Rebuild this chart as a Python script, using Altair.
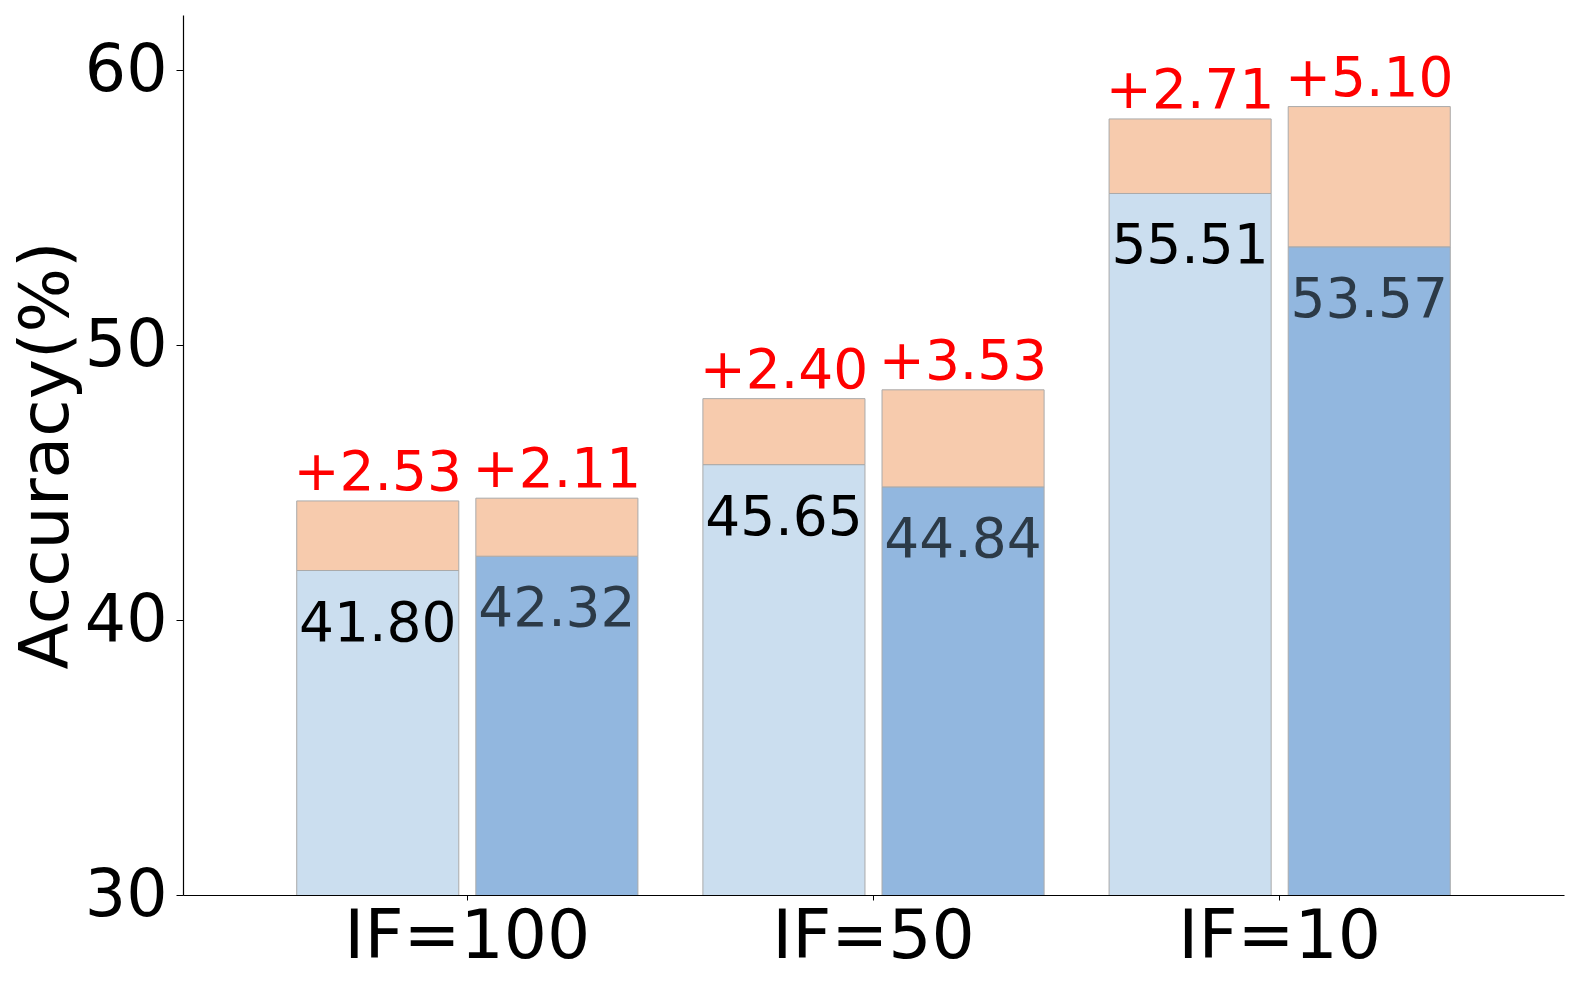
import altair as alt
import pandas as pd

groups = ["IF=100", "IF=50", "IF=10"]
variants = ["base", "ours"]
light_base = [41.80, 45.65, 55.51]
light_gain = [2.53, 2.40, 2.71]
dark_base = [42.32, 44.84, 53.57]
dark_gain = [2.11, 3.53, 5.10]
y_ticks = [30, 40, 50, 60]

rows = []
for i, g in enumerate(groups):
    for v, b, d in ((variants[0], light_base[i], light_gain[i]), (variants[1], dark_base[i], dark_gain[i])):
        rows.append({"group": g, "variant": v, "base": b, "gain": d, "top": round(b + d, 2),
                     "base_label": f"{b:.2f}", "gain_label": f"+{d:.2f}", "zero": 0})
df = pd.DataFrame(rows)

FONT = "DejaVu Sans"
LIGHT = "#cbdeef"
DARK = "#92b7df"
ORANGE = "#f7cbad"
EDGE = "#aaaaaa"

x_enc = alt.X("group:N", sort=groups,
              scale=alt.Scale(paddingInner=0.16, paddingOuter=0.28),
              axis=alt.Axis(title=None, labelFontSize=68, labelFont=FONT, labelColor="black",
                            labelAngle=0, tickSize=5, tickColor="black", labelPadding=3,
                            labelLimit=0, domainColor="black", domainWidth=1.2))
xoff = alt.XOffset("variant:N", sort=variants,
                   scale=alt.Scale(paddingInner=0.0952, paddingOuter=0))
y_scale = alt.Scale(domain=[30, 62], nice=False, zero=False)

base = alt.Chart(df)

bars = base.mark_bar(stroke=EDGE, strokeWidth=1, clip=True).encode(
    x=x_enc, xOffset=xoff,
    y=alt.Y("zero:Q", scale=y_scale,
            axis=alt.Axis(values=y_ticks, title="Accuracy(%)", titleFontSize=68, titleFont=FONT,
                          titleFontWeight="normal", titleColor="black",
                          titleX=-136, titleY=440, titleAngle=-90, titleAlign="center",
                          titleBaseline="middle",
                          labelFontSize=65, labelFont=FONT, labelColor="black",
                          tickSize=7, tickColor="black", labelPadding=9, grid=False,
                          domainColor="black", domainWidth=1.2)),
    y2="base:Q",
    fill=alt.Fill("variant:N", sort=variants, scale=alt.Scale(domain=variants, range=[LIGHT, DARK]), legend=None),
)

gain_bars = base.mark_bar(stroke=EDGE, strokeWidth=1, fill=ORANGE, clip=True).encode(
    x=x_enc, xOffset=xoff,
    y=alt.Y("base:Q", scale=y_scale),
    y2="top:Q",
)

base_text = base.mark_text(font=FONT, fontSize=55, baseline="alphabetic", dy=70).encode(
    x=x_enc, xOffset=xoff,
    y=alt.Y("base:Q", scale=y_scale),
    text="base_label:N",
    color=alt.Color("variant:N", sort=variants, scale=alt.Scale(domain=variants, range=["#000000", "#2c3a47"]), legend=None),
)

gain_text = base.mark_text(font=FONT, fontSize=55, baseline="alphabetic", dy=-11, color="#ff0000").encode(
    x=x_enc, xOffset=xoff,
    y=alt.Y("top:Q", scale=y_scale),
    text="gain_label:N",
)

chart = alt.layer(bars, gain_bars, base_text, gain_text).properties(
    width=1381, height=880,
    autosize=alt.AutoSizeParams(type="none"),
    padding={"left": 175, "top": 7, "right": 4, "bottom": 80},
).configure(background="white", view=alt.ViewConfig(stroke=None))

chart.save("out.html", embed_options={"renderer": "svg", "actions": False})
